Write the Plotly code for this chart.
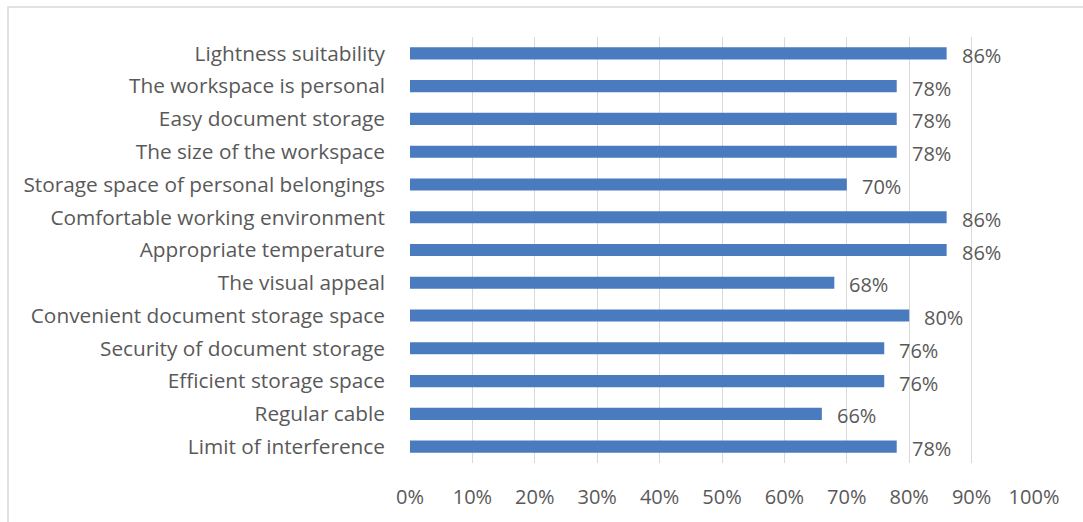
import plotly.graph_objects as go

categories = [
    "Lightness suitability",
    "The workspace is personal",
    "Easy document storage",
    "The size of the workspace",
    "Storage space of personal belongings",
    "Comfortable working environment",
    "Appropriate temperature",
    "The visual appeal",
    "Convenient document storage space",
    "Security of document storage",
    "Efficient storage space",
    "Regular cable",
    "Limit of interference",
]
values = [86, 78, 78, 78, 70, 86, 86, 68, 80, 76, 76, 66, 78]
x_ticks = list(range(0, 101, 10))
x_tick_labels = [f"{t}%" for t in x_ticks]

W, H = 1083, 522
L, R, T, B = 410, 49, 37, 59
FONT = "Open Sans, sans-serif"
GREY = "#595959"

fig = go.Figure(
    go.Bar(
        x=[v / 100 for v in values],
        y=categories,
        orientation="h",
        marker=dict(color="#4a7bbf", line=dict(width=0)),
        width=0.37,
        hoverinfo="skip",
    )
)

for c, v in zip(categories, values):
    fig.add_annotation(
        x=v / 100, y=c, text=f"{v}%", showarrow=False,
        xanchor="left", yanchor="middle", xshift=13, yshift=-2,
        font=dict(family=FONT, size=20, color=GREY),
    )

# light frame around the chart
pw, ph = W - L - R, H - T - B
fig.add_shape(
    type="rect", xref="paper", yref="paper",
    x0=(8 - L) / pw, x1=(W + 5 - L) / pw,
    y0=-(H + 5 - T - ph) / ph, y1=(T - 7) / ph + 1,
    line=dict(color="#d9d9d9", width=1.5), fillcolor="rgba(0,0,0,0)",
)

fig.update_layout(
    width=W, height=H,
    margin=dict(l=L, r=R, t=T, b=B, pad=0),
    paper_bgcolor="white", plot_bgcolor="white",
    showlegend=False,
    font=dict(family=FONT, size=20, color=GREY),
    xaxis=dict(
        range=[0, 1], tickvals=[t / 100 for t in x_ticks], ticktext=x_tick_labels,
        showgrid=True, gridcolor="#d9d9d9", gridwidth=1,
        zeroline=False, showline=False, ticks="", ticklabelstandoff=20,
        tickfont=dict(family=FONT, size=20, color=GREY),
    ),
    yaxis=dict(
        categoryorder="array", categoryarray=categories[::-1],
        range=[-0.5, len(categories) - 0.5],
        showgrid=False, zeroline=False, showline=False, ticks="",
        ticklabelstandoff=24,
        tickfont=dict(family=FONT, size=20.8, color=GREY),
    ),
)

fig.write_html("out.html")
